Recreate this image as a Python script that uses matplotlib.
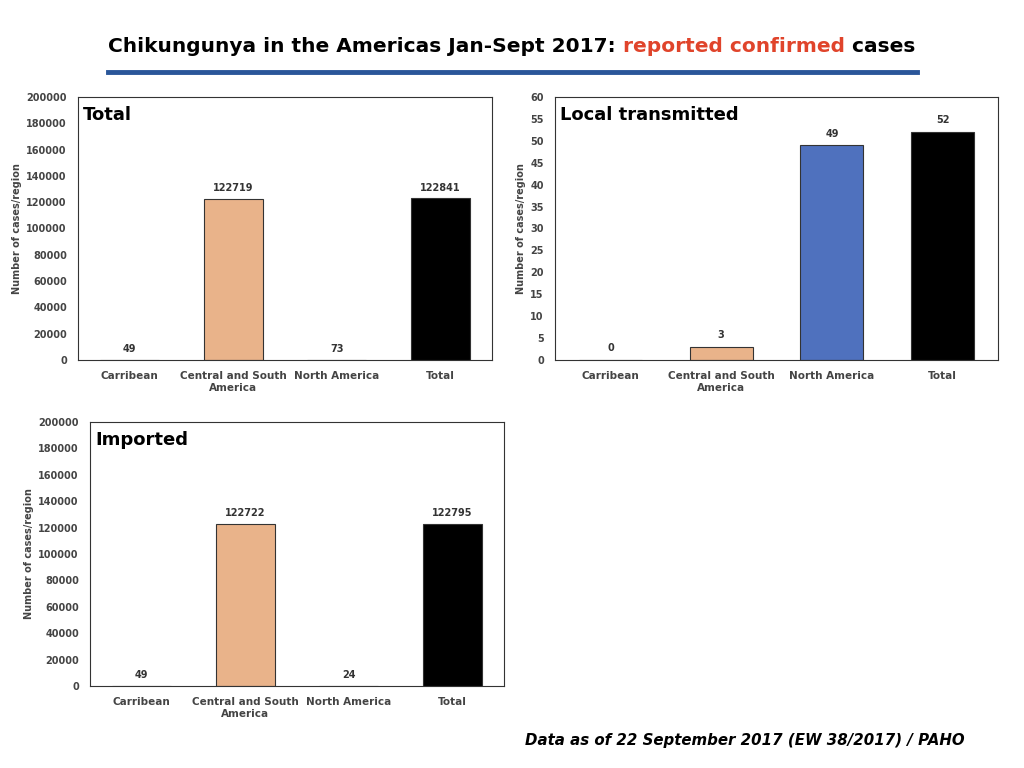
import matplotlib.pyplot as plt

categories = ["Carribean", "Central and South\nAmerica", "North America", "Total"]
total_vals = [49, 122719, 73, 122841]
local_vals = [0, 3, 49, 52]
imported_vals = [49, 122722, 24, 122795]

W, H = 1024, 768
fig = plt.figure(figsize=(W / 100, H / 100), dpi=100)
fig.patch.set_facecolor("white")


def px_axes(x0, y0, x1, y1):
    return fig.add_axes([x0 / W, 1 - y1 / H, (x1 - x0) / W, (y1 - y0) / H])


def panel(ax, vals, colors, ymax, step, label, fmt_off):
    x = range(len(vals))
    ax.bar(x, vals, width=0.57, color=colors, edgecolor="#333333", linewidth=0.8)
    for i, v in enumerate(vals):
        ax.text(i, v + fmt_off, str(v), ha="center", va="bottom", fontsize=7,
                fontweight="bold", color="#333333")
    ax.set_ylim(0, ymax)
    ax.set_xlim(-0.5, len(vals) - 0.5)
    ax.set_yticks(range(0, ymax + 1, step))
    ax.tick_params(axis="y", labelsize=7, length=0, pad=8)
    ax.tick_params(axis="x", labelsize=7.5, length=0, pad=8)
    for t in ax.get_yticklabels() + ax.get_xticklabels():
        t.set_fontweight("bold")
        t.set_color("#444444")
    ax.set_xticks(list(x))
    ax.set_xticklabels(categories)
    ax.set_ylabel("Number of cases/region", fontsize=7, fontweight="bold", color="#444444", labelpad=3)
    for s in ax.spines.values():
        s.set_color("#333333")
        s.set_linewidth(0.8)
    ax.text(0.012, 0.965, label, transform=ax.transAxes, ha="left", va="top",
            fontsize=13, fontweight="bold")


grey = "#7f7f7f"
peach = "#E9B38A"
ax1 = px_axes(78, 97, 492, 360)
panel(ax1, total_vals, [grey, peach, grey, "black"], 200000, 20000, "Total", 4500)
ax2 = px_axes(555, 97, 998, 360)
panel(ax2, local_vals, [grey, peach, "#4F71BE", "black"], 60, 5, "Local transmitted", 1.5)
ax3 = px_axes(90, 422, 504, 686)
panel(ax3, imported_vals, [grey, peach, grey, "black"], 200000, 20000, "Imported", 4500)

ty = 1 - 47 / H
fs = 14.5
t = fig.text(108 / W, ty, "Chikungunya in the Americas Jan-Sept 2017: ", fontsize=fs,
             fontweight="bold", va="center", ha="left")
fig.canvas.draw()
bb = t.get_window_extent()
t2 = fig.text(bb.x1 / W, ty, "reported confirmed", fontsize=fs, fontweight="bold",
              va="center", ha="left", color="#E0442B")
fig.canvas.draw()
bb2 = t2.get_window_extent()
fig.text(bb2.x1 / W, ty, " cases", fontsize=fs, fontweight="bold", va="center", ha="left")
fig.add_artist(plt.Line2D([108 / W, 917 / W], [1 - 72 / H, 1 - 72 / H], color="#2A5699", linewidth=3.5))
fig.text(965 / W, 1 - 740 / H, "Data as of 22 September 2017 (EW 38/2017) / PAHO", fontsize=10.8,
         fontweight="bold", style="italic", ha="right", va="center")

fig.savefig("out.png", dpi=100)
